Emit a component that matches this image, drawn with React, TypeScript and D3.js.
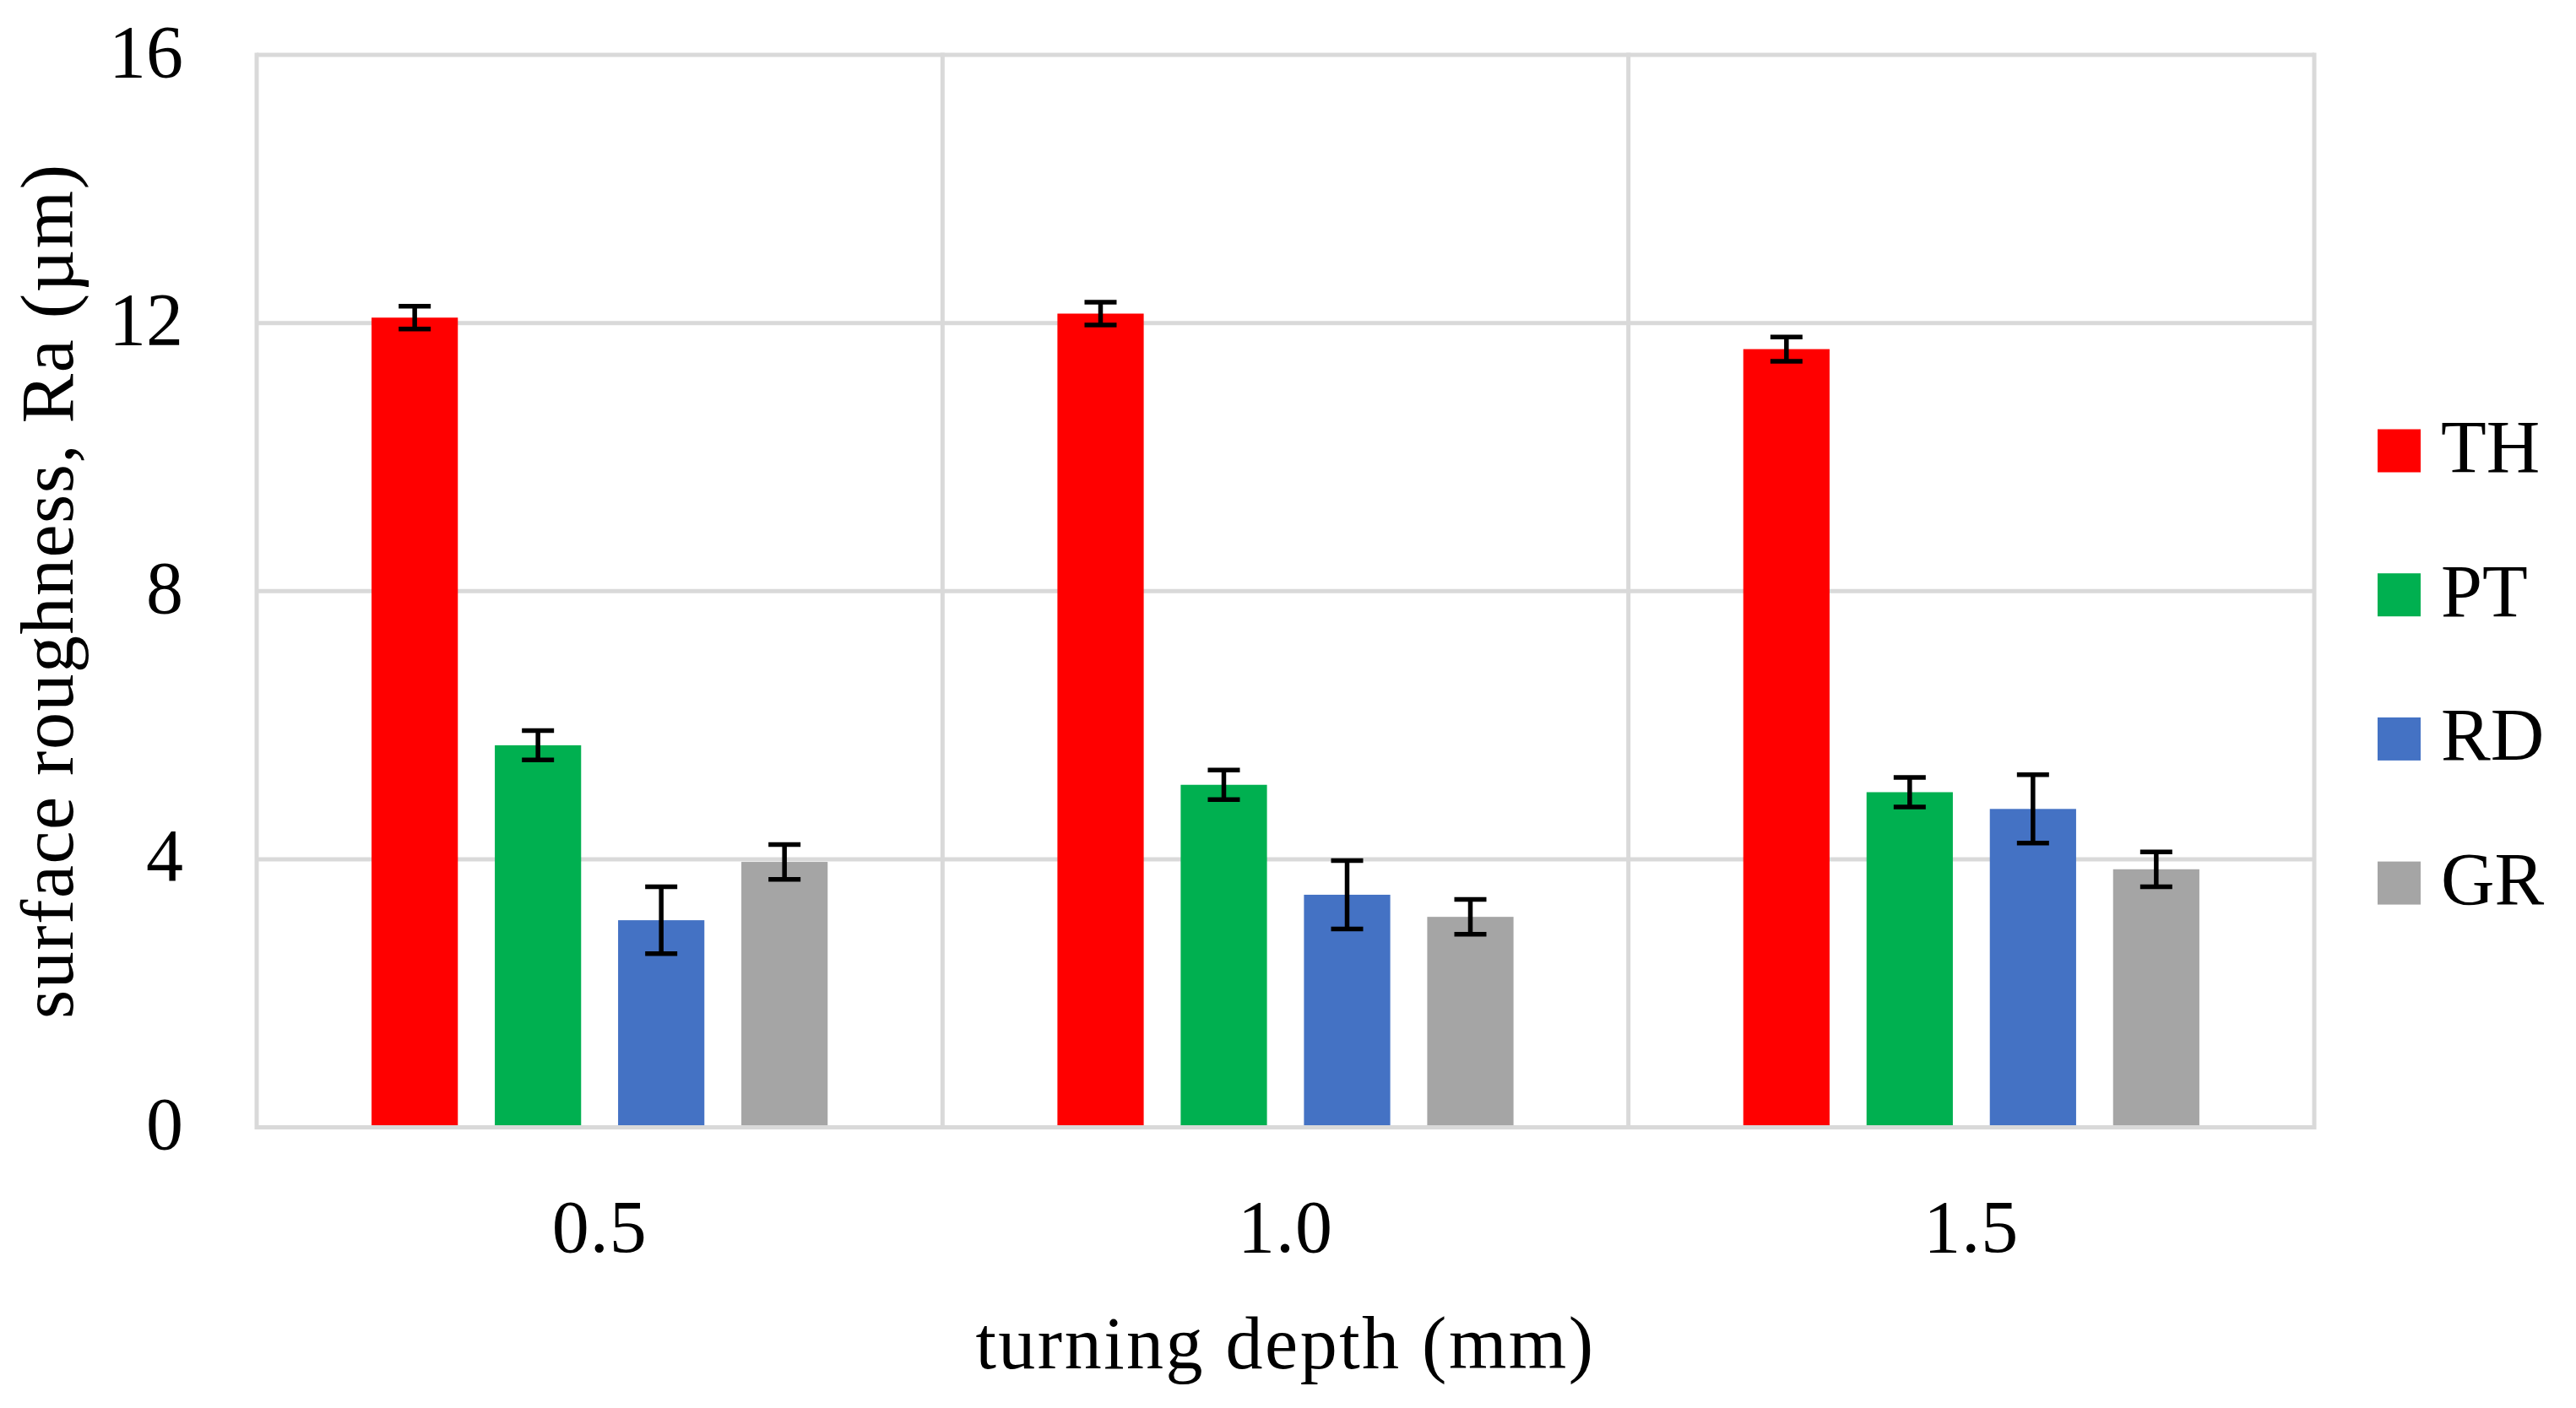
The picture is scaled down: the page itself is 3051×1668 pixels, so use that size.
import { useRef, useEffect } from "react";
import * as d3 from "d3";

const DEPTHS = ["0.5", "1.0", "1.5"];
const SERIES = ["TH", "PT", "RD", "GR"];
const TH = [12.08, 12.14, 11.61];
const PT = [5.7, 5.11, 5.0];
const RD = [3.09, 3.47, 4.75];
const GR = [3.96, 3.14, 3.85];
const TH_ERR = [0.17, 0.17, 0.18];
const PT_ERR = [0.22, 0.22, 0.22];
const RD_ERR = [0.5, 0.51, 0.51];
const GR_ERR = [0.26, 0.26, 0.26];
const Y_TICKS = [0, 4, 8, 12, 16];

const COLORS: Record<string, string> = {
  TH: "#ff0000",
  PT: "#00b050",
  RD: "#4472c4",
  GR: "#a5a5a5",
};

const FONT = "'Liberation Serif', 'Times New Roman', serif";

export default function App() {
  const svgRef = useRef<SVGSVGElement>(null);

  useEffect(() => {
    if (!svgRef.current) return;
    const svg = d3.select(svgRef.current);
    svg.selectAll("*").remove();

    const W = 3051;
    const H = 1668;
    const margin = { top: 65, right: 310, bottom: 332.5, left: 304 };
    const width = W - margin.left - margin.right;
    const height = H - margin.top - margin.bottom;

    svg.attr("viewBox", `0 0 ${W} ${H}`);
    svg.append("rect").attr("width", W).attr("height", H).attr("fill", "#fff");

    const g = svg
      .append("g")
      .attr("transform", `translate(${margin.left},${margin.top})`);

    const values: Record<string, number[]> = { TH, PT, RD, GR };
    const errors: Record<string, number[]> = {
      TH: TH_ERR,
      PT: PT_ERR,
      RD: RD_ERR,
      GR: GR_ERR,
    };

    const rows = DEPTHS.flatMap((d, i) =>
      SERIES.map((s) => ({
        depth: d,
        series: s,
        value: values[s][i],
        err: errors[s][i],
      })),
    );

    const x0 = d3.scaleBand().domain(DEPTHS).range([0, width]).padding(0);
    const x1 = d3
      .scaleBand()
      .domain(SERIES)
      .range([0, x0.bandwidth()])
      .paddingInner(0.3)
      .paddingOuter(0.932);
    const y = d3.scaleLinear().domain([0, 16]).range([height, 0]);

    const grid = "#d9d9d9";

    // horizontal grid lines
    g.append("g")
      .selectAll("line")
      .data(Y_TICKS)
      .join("line")
      .attr("x1", 0)
      .attr("x2", width)
      .attr("y1", (d) => y(d))
      .attr("y2", (d) => y(d))
      .attr("stroke", grid)
      .attr("stroke-width", 5);

    // vertical category separators
    const seps = [...DEPTHS.map((d) => x0(d)!), width];
    g.append("g")
      .selectAll("line")
      .data(seps)
      .join("line")
      .attr("x1", (d) => d)
      .attr("x2", (d) => d)
      .attr("y1", y(16) - 2.5)
      .attr("y2", y(0) + 2.5)
      .attr("stroke", grid)
      .attr("stroke-width", 5);

    // bars
    g.append("g")
      .selectAll("rect")
      .data(rows)
      .join("rect")
      .attr("x", (d) => x0(d.depth)! + x1(d.series)!)
      .attr("y", (d) => y(d.value))
      .attr("width", x1.bandwidth())
      .attr("height", (d) => y(0) - y(d.value))
      .attr("fill", (d) => COLORS[d.series]);

    // baseline on top of bars
    g.append("line")
      .attr("x1", 0)
      .attr("x2", width)
      .attr("y1", y(0))
      .attr("y2", y(0))
      .attr("stroke", grid)
      .attr("stroke-width", 5);

    // error bars
    const cap = 19;
    const eb = g
      .append("g")
      .selectAll("g")
      .data(rows)
      .join("g")
      .attr(
        "transform",
        (d) =>
          `translate(${x0(d.depth)! + x1(d.series)! + x1.bandwidth() / 2},0)`,
      )
      .attr("stroke", "#000")
      .attr("stroke-width", 5.5);
    eb.append("line")
      .attr("y1", (d) => y(d.value + d.err))
      .attr("y2", (d) => y(d.value - d.err));
    eb.append("line")
      .attr("x1", -cap)
      .attr("x2", cap)
      .attr("y1", (d) => y(d.value + d.err))
      .attr("y2", (d) => y(d.value + d.err));
    eb.append("line")
      .attr("x1", -cap)
      .attr("x2", cap)
      .attr("y1", (d) => y(d.value - d.err))
      .attr("y2", (d) => y(d.value - d.err));

    // y tick labels
    g.append("g")
      .call(d3.axisLeft(y).tickValues(Y_TICKS).tickSize(0).tickPadding(87))
      .call((a) => a.select(".domain").remove())
      .selectAll("text")
      .attr("dy", 25)
      .attr("fill", "#000")
      .style("font-family", FONT)
      .style("font-size", "88px");

    // x tick labels
    g.append("g")
      .attr("transform", `translate(0,${height})`)
      .call(d3.axisBottom(x0).tickSize(0).tickPadding(0))
      .call((a) => a.select(".domain").remove())
      .selectAll("text")
      .attr("dy", null)
      .attr("y", 147)
      .attr("fill", "#000")
      .style("font-family", FONT)
      .style("font-size", "88px")
      .style("letter-spacing", "1px");

    // axis titles
    g.append("text")
      .attr("x", width / 2)
      .attr("y", height + 285)
      .attr("text-anchor", "middle")
      .attr("fill", "#000")
      .style("font-family", FONT)
      .style("font-size", "88px")
      .style("letter-spacing", "2.5px")
      .text("turning depth (mm)");

    g.append("text")
      .attr("transform", "rotate(-90)")
      .attr("x", -height / 2)
      .attr("y", 86 - margin.left)
      .attr("text-anchor", "middle")
      .attr("fill", "#000")
      .style("font-family", FONT)
      .style("font-size", "88px")
      .style("letter-spacing", "1.5px")
      .text("surface roughness, Ra (µm)");

    // legend
    const legend = svg
      .append("g")
      .attr("transform", "translate(2816,534)")
      .selectAll("g")
      .data(SERIES)
      .join("g")
      .attr("transform", (_, i) => `translate(0,${i * 170.7})`);
    legend
      .append("rect")
      .attr("x", 0)
      .attr("y", -25.5)
      .attr("width", 51)
      .attr("height", 51)
      .attr("fill", (d) => COLORS[d]);
    legend
      .append("text")
      .attr("x", 75)
      .attr("y", 25)
      .attr("fill", "#000")
      .style("font-family", FONT)
      .style("font-size", "88px")
      .text((d) => d);
  }, []);

  return (
    <svg
      ref={svgRef}
      width={3051}
      height={1668}
      style={{ position: "absolute", left: 0, top: 0, display: "block" }}
    />
  );
}
